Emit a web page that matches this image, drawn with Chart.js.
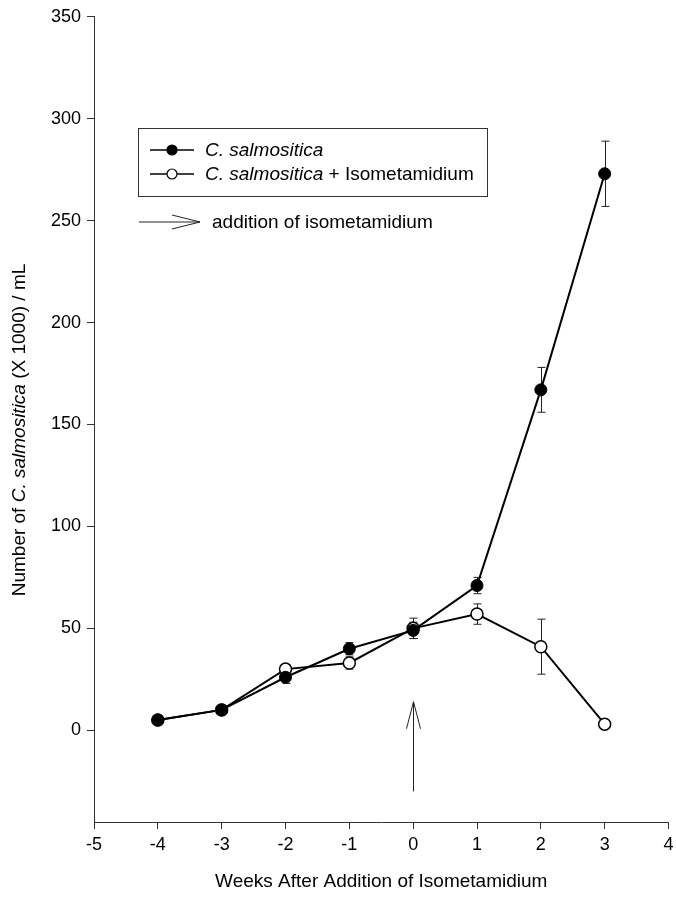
<!DOCTYPE html>
<html>
<head>
<meta charset="utf-8">
<script src="https://cdn.jsdelivr.net/npm/chart.js@4/dist/chart.umd.min.js"></script>
<style>
  html, body { margin: 0; padding: 0; background: #fff; }
  #wrap { width: 676px; height: 897px; }
</style>
</head>
<body>
<div id="wrap"><canvas id="cultureChart" width="676" height="897"></canvas></div>
<script>
// weeks relative to drug addition
const weeks = [-4, -3, -2, -1, 0, 1, 2, 3];

// C. salmositica alone (x1000 / mL)
const controlMean = [5, 10, 26, 40, 49, 71, 167, 273];
const controlErr = [0, 0, 3, 3, 4, 4, 11, 16];

// C. salmositica + isometamidium
const treatedMean = [5, 10, 30, 33, 50, 57, 41, 3];
const treatedErr = [0, 0, 2, 3, 5, 5, 13.5, 0];

const yTicks = [0, 50, 100, 150, 200, 250, 300, 350];
const arrowWeek = 0;
const arrowFrom = -30;
const arrowTo = 14;

const FONT = '"Liberation Sans", Arial, sans-serif';

function toPoints(xs, ys) {
    return xs.map((x, i) => ({ x: x, y: ys[i] }));
}

// error bars go under the markers
const errorBars = {
    id: 'errorBars',
    beforeDatasetsDraw(chart) {
        const ctx = chart.ctx;
        const xs = chart.scales.x;
        const ys = chart.scales.y;
        ctx.save();
        ctx.strokeStyle = '#222';
        ctx.lineWidth = 1;
        [[controlMean, controlErr], [treatedMean, treatedErr]].forEach(([m, e]) => {
            weeks.forEach((w, i) => {
                if (!e[i]) return;
                const px = Math.round(xs.getPixelForValue(w)) + 0.5;
                const top = ys.getPixelForValue(m[i] + e[i]);
                const bot = ys.getPixelForValue(m[i] - e[i]);
                ctx.beginPath();
                ctx.moveTo(px, top); ctx.lineTo(px, bot);
                ctx.moveTo(px - 4, top); ctx.lineTo(px + 4, top);
                ctx.moveTo(px - 4, bot); ctx.lineTo(px + 4, bot);
                ctx.stroke();
            });
        });
        ctx.restore();
    }
};

// vertical arrow, y title and the boxed legend
const extras = {
    id: 'extras',
    afterDatasetsDraw(chart) {
        const ctx = chart.ctx;
        const xs = chart.scales.x;
        const ys = chart.scales.y;
        ctx.save();
        ctx.strokeStyle = '#222';
        ctx.lineWidth = 1;

        // arrow marking the addition
        const ax = Math.round(xs.getPixelForValue(arrowWeek)) + 0.5;
        const a0 = ys.getPixelForValue(arrowFrom);
        const a1 = ys.getPixelForValue(arrowTo);
        ctx.beginPath();
        ctx.moveTo(ax, a0); ctx.lineTo(ax, a1);
        ctx.moveTo(ax - 7, a1 + 27); ctx.lineTo(ax, a1); ctx.lineTo(ax + 7, a1 + 27);
        ctx.stroke();

        // legend box
        ctx.strokeStyle = '#333';
        ctx.strokeRect(138.5, 128.5, 349, 68);
        const rows = [
            { y: 150, fill: '#000', italic: 'C. salmositica', rest: '' },
            { y: 174, fill: '#fff', italic: 'C. salmositica', rest: ' + Isometamidium' }
        ];
        rows.forEach(r => {
            ctx.strokeStyle = '#000';
            ctx.lineWidth = 1.5;
            ctx.beginPath();
            ctx.moveTo(150, r.y); ctx.lineTo(194, r.y);
            ctx.stroke();
            ctx.beginPath();
            ctx.arc(172, r.y, 5, 0, Math.PI * 2);
            ctx.fillStyle = r.fill;
            ctx.fill();
            ctx.lineWidth = 1.2;
            ctx.stroke();
            ctx.fillStyle = '#000';
            ctx.textBaseline = 'middle';
            ctx.textAlign = 'left';
            ctx.font = 'italic 19px ' + FONT;
            ctx.fillText(r.italic, 205, r.y + 1);
            const w = ctx.measureText(r.italic).width;
            ctx.font = '19px ' + FONT;
            ctx.fillText(r.rest, 205 + w, r.y + 1);
        });

        // legend arrow
        ctx.strokeStyle = '#222';
        ctx.lineWidth = 1;
        ctx.beginPath();
        ctx.moveTo(139, 222); ctx.lineTo(200, 222);
        ctx.moveTo(172, 215); ctx.lineTo(200, 222); ctx.lineTo(172, 229);
        ctx.stroke();
        ctx.font = '19px ' + FONT;
        ctx.fillText('addition of isometamidium', 212, 223);

        // y title with italic species name
        const parts = [
            ['Number of ', ''],
            ['C. salmositica', 'italic '],
            [' (X 1000) / mL', '']
        ];
        let total = 0;
        parts.forEach(p => { ctx.font = p[1] + '19px ' + FONT; total += ctx.measureText(p[0]).width; });
        ctx.translate(20, 430);
        ctx.rotate(-Math.PI / 2);
        let x = -total / 2;
        parts.forEach(p => {
            ctx.font = p[1] + '19px ' + FONT;
            ctx.fillText(p[0], x, 0);
            x += ctx.measureText(p[0]).width;
        });
        ctx.restore();
    }
};

const ctx = document.getElementById('cultureChart').getContext('2d');
new Chart(ctx, {
    type: 'line',
    data: {
        datasets: [
            {
                label: 'C. salmositica',
                data: toPoints(weeks, controlMean),
                borderColor: '#000',
                backgroundColor: '#000',
                borderWidth: 2,
                pointRadius: 6,
                pointBorderWidth: 1,
                pointBorderColor: '#000',
                pointBackgroundColor: '#000',
                tension: 0
            },
            {
                label: 'C. salmositica + Isometamidium',
                data: toPoints(weeks, treatedMean),
                borderColor: '#000',
                backgroundColor: '#fff',
                borderWidth: 2,
                pointRadius: 6,
                pointBorderWidth: 1.5,
                pointBorderColor: '#000',
                pointBackgroundColor: '#fff',
                tension: 0
            }
        ]
    },
    options: {
        responsive: false,
        animation: false,
        layout: { padding: { top: 15, right: 0, left: 0, bottom: 0 } },
        plugins: {
            legend: { display: false },
            tooltip: { enabled: false }
        },
        scales: {
            x: {
                type: 'linear',
                min: -5,
                max: 4,
                ticks: {
                    stepSize: 1,
                    color: '#000',
                    font: { family: FONT, size: 18 },
                    padding: 5
                },
                grid: { drawOnChartArea: false, tickLength: 7, color: '#333' },
                border: { color: '#333', width: 1 },
                title: {
                    display: true,
                    text: 'Weeks After Addition of Isometamidium',
                    color: '#000',
                    font: { family: FONT, size: 19 },
                    padding: { top: 14 }
                },
                afterFit(scale) {
                    scale.height = 75;
                    scale.paddingRight = 5;
                }
            },
            y: {
                min: -45,
                max: 350,
                afterBuildTicks(scale) {
                    scale.ticks = yTicks.map(v => ({ value: v }));
                },
                ticks: {
                    color: '#000',
                    font: { family: FONT, size: 18 },
                    padding: 6
                },
                grid: { drawOnChartArea: false, tickLength: 7, color: '#333' },
                border: { color: '#333', width: 1 },
                afterFit(scale) { scale.width = 94; }
            }
        }
    },
    plugins: [errorBars, extras]
});
</script>
</body>
</html>
